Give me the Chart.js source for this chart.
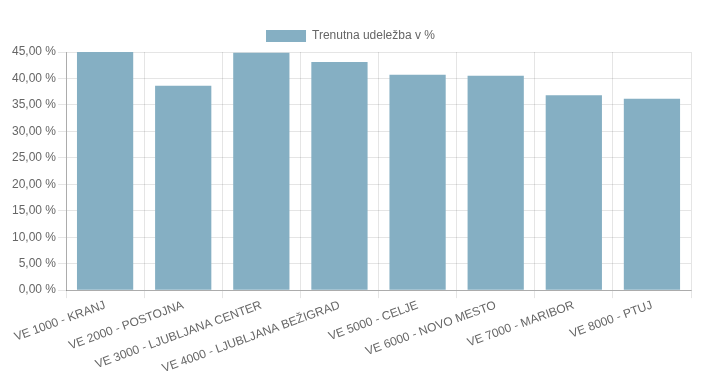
<!DOCTYPE html>
<html>
<head>
<meta charset="utf-8">
<script src="https://cdn.jsdelivr.net/npm/chart.js@4"></script>
<style>
html,body{margin:0;padding:0;background:#fff;}
#wrap{width:705px;height:382px;}
</style>
</head>
<body>
<div id="wrap"><canvas id="c" width="705" height="382"></canvas></div>
<script>
const categories = ["VE 1000 - KRANJ","VE 2000 - POSTOJNA","VE 3000 - LJUBLJANA CENTER","VE 4000 - LJUBLJANA BEŽIGRAD","VE 5000 - CELJE","VE 6000 - NOVO MESTO","VE 7000 - MARIBOR","VE 8000 - PTUJ"];
const seriesName = "Trenutna udeležba v %";
const values = [45.0, 38.6, 44.85, 43.1, 40.7, 40.5, 36.85, 36.15];
const yMin = 0, yMax = 45, yStep = 5;

Chart.defaults.font.family = "'Liberation Sans', Arial, Helvetica, sans-serif";
Chart.defaults.font.size = 12;
Chart.defaults.color = '#666';

new Chart(document.getElementById('c'), {
  type: 'bar',
  data: {
    labels: categories,
    datasets: [{
      label: seriesName,
      data: values,
      backgroundColor: '#85afc3',
      borderWidth: 0,
      barPercentage: 0.9,
      categoryPercentage: 0.8
    }]
  },
  options: {
    responsive: false,
    animation: false,
    layout: { padding: { left: 10, right: 14, top: 20, bottom: 6 } },
    plugins: {
      legend: {
        display: true,
        position: 'top',
        labels: { boxWidth: 40, boxHeight: 12, padding: 10, color: '#666', font: { size: 12 } }
      },
      tooltip: { enabled: false }
    },
    scales: {
      x: {
        grid: { color: 'rgba(0,0,0,0.1)', drawTicks: true, tickLength: 8, offset: true },
        border: { color: 'rgba(0,0,0,0.25)' },
        ticks: { maxRotation: 20, minRotation: 20, autoSkip: false, color: '#666', padding: 0 }
      },
      y: {
        min: yMin, max: yMax,
        grid: { color: 'rgba(0,0,0,0.1)', tickLength: 8 },
        border: { color: 'rgba(0,0,0,0.25)' },
        ticks: {
          stepSize: yStep, color: '#666', padding: 2,
          callback: v => v.toFixed(2).replace('.', ',') + ' %'
        }
      }
    }
  }
});
</script>
</body>
</html>
